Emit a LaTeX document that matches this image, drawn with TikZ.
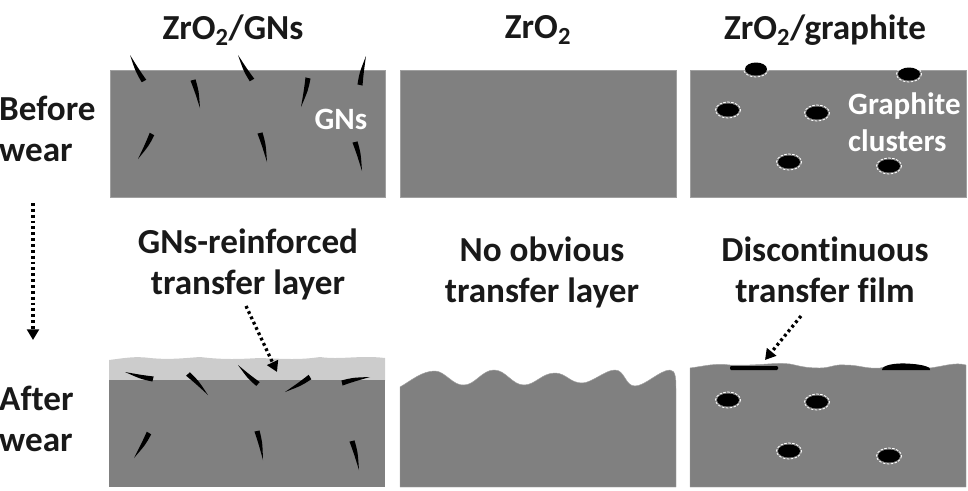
\documentclass[tikz,border=0pt]{standalone}
\usepackage{fontspec}
\setmainfont[Ligatures=NoCommon]{Carlito}
\usetikzlibrary{calc,arrows.meta}
\definecolor{matrixgrey}{RGB}{128,128,128}
\definecolor{layergrey}{RGB}{204,204,204}
\definecolor{labelink}{RGB}{25,25,25}
\tikzset{
  x=0.03cm, y=-0.03cm,
  label text/.style={font=\bfseries\fontsize{30}{35}\selectfont, text=labelink, align=center, inner sep=0pt},
  side text/.style={label text, align=left, anchor=west},
  white text/.style={font=\bfseries\fontsize{26.5}{31.5}\selectfont, text=white, align=left, inner sep=0pt},
  matrix fill/.style={fill=matrixgrey, draw=matrixgrey!75!white, line width=0.4pt},
  flow arrow/.style={line width=2.8pt, dash pattern=on 2.4pt off 2.6pt, -{Triangle[length=9pt,width=10pt]}, black},
}
% Thin tapered crescent: first point is the sharp tip, second the blunt end
\newcommand{\flake}[2]{\fill[black] (#1)
  .. controls ($(#1)!0.6!(#2)!2.6pt!90:(#1)$) .. ($(#2)!2.2pt!90:(#1)$)
  -- ($(#2)!2.2pt!-90:(#1)$)
  .. controls ($(#1)!0.6!(#2)!1pt!-90:(#1)$) .. (#1) -- cycle;}
% Graphite cluster with a dashed white halo
\newcommand{\cluster}[1]{%
  \fill[black] (#1) ellipse [x radius=11, y radius=6.5];
  \draw[white, line width=0.7pt, dash pattern=on 2.2pt off 1.2pt] (#1) ellipse [x radius=12.5, y radius=8];}
\begin{document}
\begin{tikzpicture}
\useasboundingbox (0,0) rectangle (968,490);

% Column headings
\node[label text] (h1) at (233,30) {ZrO\textsubscript{2}/GNs};
\node[label text] (h2) at (538,30) {ZrO\textsubscript{2}};
\node[label text] (h3) at (825,30) {ZrO\textsubscript{2}/graphite};

% Row headings
\node[side text] (before) at (-1,129) {Before\\wear};
\node[side text] (after) at (-1,419) {After\\wear};

% Upper row: ceramic blocks
\path[matrix fill] (110,70) rectangle (385,197);
\path[matrix fill] (400,70) rectangle (676,197);
\path[matrix fill] (690,70) rectangle (966,197);

% Upper row: flakes in the first block
\flake{130,55}{144,81}
\flake{200,108}{193,80}
\flake{238,55}{252,80}
\flake{301,107}{308,78}
\flake{366,56}{360,85}
\flake{138,159}{152,134}
\flake{267,162}{260,133}
\flake{362,171}{355,142}
\node[white text] (gns) at (341,119) {GNs};

% Upper row: clusters in the third block
\cluster{756,69}
\cluster{909,74}
\cluster{728,110}
\cluster{817,113}
\cluster{789,162}
\cluster{889,166}
\node[white text, anchor=west] (clusters) at (848,122) {Graphite\\clusters};

% Lower row, first block: transfer layer over the worn surface
\path[fill=layergrey] (109,360) .. controls (125,358) and (135,356) .. (150,358)
  .. controls (170,360) and (185,358) .. (200,357)
  .. controls (225,360) and (240,359) .. (260,358)
  .. controls (285,359) and (300,360) .. (320,357)
  .. controls (340,360) and (360,355) .. (385,358) -- (385,381) -- (109,381) -- cycle;
\path[fill=matrixgrey] (109,380) rectangle (385,487);
\flake{125,372}{153,379}
\flake{208,395}{188,374}
\flake{238,365}{258,384}
\flake{285,392}{310,377}
\flake{370,377}{342,383}
\flake{134,458}{149,433}
\flake{263,460}{257,431}
\flake{359,470}{352,441}

% Lower row, second block: wavy worn surface
\path[matrix fill] (400,387) .. controls (412,380) and (422,371) .. (435,371)
  .. controls (445,371) and (453,386) .. (464,385)
  .. controls (475,385) and (482,370) .. (494,370)
  .. controls (506,370) and (512,385) .. (524,385)
  .. controls (535,385) and (542,373) .. (555,373)
  .. controls (566,373) and (570,383) .. (582,383)
  .. controls (592,383) and (605,370) .. (615,370)
  .. controls (625,370) and (625,386) .. (635,386)
  .. controls (645,386) and (660,370) .. (670,370)
  .. controls (676,370) and (676,380) .. (676,390)
  -- (676,487) -- (400,487) -- cycle;

% Lower row, third block: mildly rippled surface with film patches
\path[matrix fill] (690,368) .. controls (705,366) and (715,363) .. (730,365)
  .. controls (760,366) and (775,362) .. (790,364)
  .. controls (800,366) and (805,368) .. (820,368)
  .. controls (830,368) and (835,364) .. (845,365)
  .. controls (860,365) and (865,369) .. (880,368)
  .. controls (900,363) and (915,363) .. (930,368)
  .. controls (945,366) and (955,362) .. (966,365)
  -- (966,487) -- (690,487) -- cycle;
\fill[black, rounded corners=1pt] (730,366) -- (778,366) -- (778,370) -- (730,370) -- cycle;
\fill[black] (882,370) .. controls (882,365) and (895,363) .. (906,363.5) .. controls (918,364) and (931,366) .. (930,370) -- cycle;
\cluster{728,400}
\cluster{817,402}
\cluster{789,451}
\cluster{889,456}

% Captions between the rows
\node[label text] (cap1) at (248,264) {GNs-reinforced\\transfer layer};
\node[label text] (cap2) at (542,272) {No obvious\\transfer layer};
\node[label text] (cap3) at (825,270) {Discontinuous\\transfer film};

% Dotted indicators
\coordinate (seqstart) at (33,203);
\coordinate (seqend) at (33,340);
\draw[flow arrow] (seqstart) -- (seqend);
\coordinate (layerstart) at (246,306);
\coordinate (layerend) at (277,372);
\draw[flow arrow] (layerstart) -- (layerend);
\coordinate (filmstart) at (801,316);
\coordinate (filmend) at (765,360);
\draw[flow arrow] (filmstart) -- (filmend);
\end{tikzpicture}
\end{document}
